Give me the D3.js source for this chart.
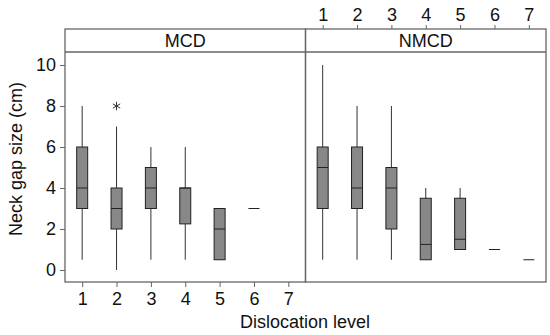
<!DOCTYPE html>
<html>
<head>
<meta charset="utf-8">
<script src="https://cdn.jsdelivr.net/npm/d3@7"></script>
<style>
  body { margin: 0; background: #fff; }
  svg text { font-family: "Liberation Sans", Arial, sans-serif; fill: #111; }
</style>
</head>
<body>
<div id="chart"></div>
<script>
// Dislocation levels (x categories)
var levels = [1, 2, 3, 4, 5, 6, 7];
var yTicks = [0, 2, 4, 6, 8, 10];
var panels = ["MCD", "NMCD"];

// Box stats per level: [whiskerLow, q1, median, q3, whiskerHigh], null = no data
var mcdStats = [
  [0.5, 3, 4, 6, 8],
  [0, 2, 3, 4, 7],
  [0.5, 3, 4, 5, 6],
  [0.5, 2.25, 4, 4, 6],
  [0.5, 0.5, 2, 3, 3],
  [3, 3, 3, 3, 3],
  null
];
var nmcdStats = [
  [0.5, 3, 5, 6, 10],
  [0.5, 3, 4, 6, 8],
  [0.5, 2, 4, 5, 8],
  [0.5, 0.5, 1.25, 3.5, 4],
  [1, 1, 1.5, 3.5, 4],
  [1, 1, 1, 1, 1],
  [0.5, 0.5, 0.5, 0.5, 0.5]
];
// Outliers: [level, value]
var mcdOutliers = [[2, 8]];
var nmcdOutliers = [];

var width = 550, height = 335;
var frame = { left: 65, top: 29, bottom: 282, right: 546 },
    headerHeight = 23,
    panelWidth = (frame.right - frame.left) / 2,
    boxWidth = 11,
    fontSize = "18px";

var svg = d3.select("#chart").append("svg")
  .attr("width", width)
  .attr("height", height);

var y = d3.scaleLinear()
  .domain([0, 10])
  .range([270, 65]);

var frameColor = "#666";

function drawPanel(name, stats, outliers, index) {
  var x0 = frame.left + index * panelWidth;
  var x = d3.scaleLinear()
    .domain([0.5, 7.5])
    .range([x0, x0 + panelWidth]);

  var g = svg.append("g");

  // Panel border
  g.append("rect")
    .attr("x", x0)
    .attr("y", frame.top)
    .attr("width", panelWidth)
    .attr("height", frame.bottom - frame.top)
    .attr("fill", "none")
    .attr("stroke", frameColor)
    .attr("stroke-width", 1.3);

  // Header strip
  g.append("line")
    .attr("x1", x0).attr("x2", x0 + panelWidth)
    .attr("y1", frame.top + headerHeight).attr("y2", frame.top + headerHeight)
    .attr("stroke", frameColor)
    .attr("stroke-width", 1.3);

  g.append("text")
    .attr("x", x0 + panelWidth / 2)
    .attr("y", 46.5)
    .attr("text-anchor", "middle")
    .style("font-size", fontSize)
    .text(name);

  var data = levels.map(function(l, i) { return { level: l, s: stats[i] }; })
    .filter(function(d) { return d.s; });

  var boxes = g.selectAll(".box")
    .data(data).enter()
    .append("g")
      .attr("class", "box");

  // Whiskers
  boxes.append("line")
    .attr("x1", function(d) { return x(d.level); })
    .attr("x2", function(d) { return x(d.level); })
    .attr("y1", function(d) { return y(d.s[0]); })
    .attr("y2", function(d) { return y(d.s[4]); })
    .attr("stroke", "#333")
    .attr("stroke-width", 1);

  // Box
  boxes.filter(function(d) { return d.s[3] > d.s[1]; })
    .append("rect")
      .attr("x", function(d) { return x(d.level) - boxWidth / 2; })
      .attr("width", boxWidth)
      .attr("y", function(d) { return y(d.s[3]); })
      .attr("height", function(d) { return y(d.s[1]) - y(d.s[3]); })
      .attr("fill", "#888")
      .attr("stroke", "#222")
      .attr("stroke-width", 1);

  // Median
  boxes.append("line")
    .attr("x1", function(d) { return x(d.level) - boxWidth / 2; })
    .attr("x2", function(d) { return x(d.level) + boxWidth / 2; })
    .attr("y1", function(d) { return y(d.s[2]); })
    .attr("y2", function(d) { return y(d.s[2]); })
    .attr("stroke", "#222")
    .attr("stroke-width", 1);

  // Outliers
  g.selectAll(".outlier")
    .data(outliers).enter()
    .append("path")
      .attr("class", "outlier")
      .attr("d", d3.symbol(d3.symbolAsterisk, 50))
      .attr("transform", function(d) { return "translate(" + x(d[0]) + "," + y(d[1]) + ")"; })
      .attr("fill", "none")
      .attr("stroke", "#333")
      .attr("stroke-width", 1);

  // Category axis: bottom on first panel, top on second
  var axisG;
  if (index == 0) {
    axisG = g.append("g")
      .attr("transform", "translate(0," + frame.bottom + ")")
      .call(d3.axisBottom(x).tickValues(levels).tickSize(5).tickPadding(5).tickFormat(d3.format("d")));
  } else {
    axisG = g.append("g")
      .attr("transform", "translate(0," + frame.top + ")")
      .call(d3.axisTop(x).tickValues(levels).tickSize(4).tickPadding(4).tickFormat(d3.format("d")));
  }
  axisG.select(".domain").remove();
  axisG.selectAll(".tick line").attr("stroke", frameColor);
  axisG.selectAll(".tick text")
    .style("font-size", fontSize)
    .attr("fill", "#111");
}

drawPanel(panels[0], mcdStats, mcdOutliers, 0);
drawPanel(panels[1], nmcdStats, nmcdOutliers, 1);

// Y axis
var yAxis = svg.append("g")
  .attr("transform", "translate(" + frame.left + ",0)")
  .call(d3.axisLeft(y).tickValues(yTicks).tickSize(5).tickPadding(4));
yAxis.select(".domain").remove();
yAxis.selectAll(".tick line").attr("stroke", frameColor);
yAxis.selectAll(".tick text")
  .style("font-size", fontSize)
  .attr("fill", "#111");

// Axis titles
svg.append("text")
  .attr("transform", "translate(22,159) rotate(-90)")
  .attr("text-anchor", "middle")
  .style("font-size", fontSize)
  .text("Neck gap size (cm)");

svg.append("text")
  .attr("x", 305)
  .attr("y", 328)
  .attr("text-anchor", "middle")
  .style("font-size", fontSize)
  .text("Dislocation level");
</script>
</body>
</html>
